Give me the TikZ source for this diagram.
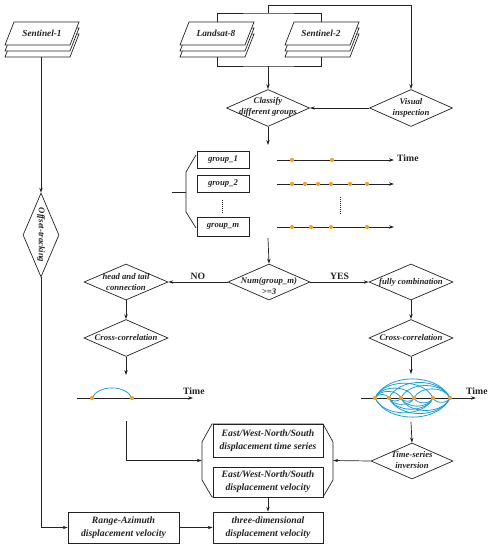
\documentclass[tikz,border=0pt]{standalone}
\usepackage{fontspec}
\setmainfont{Liberation Serif}
\usetikzlibrary{shapes.geometric,arrows.meta}
\definecolor{lc}{RGB}{35,35,35}
\definecolor{dotc}{RGB}{247,160,30}
\definecolor{arcc}{RGB}{25,160,220}
\newcommand\sheetstack[2]{%
  \foreach \o in {12,6,0}{%
    \draw[ln,fill=white] (#1-28,#2+\o) -- (#1+37,#2+\o) -- (#1+28,#2+23+\o) -- (#1-37,#2+23+\o) -- cycle;}%
}
\begin{document}
\begin{tikzpicture}[x=1pt,y=-1pt,
  ln/.style={draw=lc,line width=0.7pt},
  arr/.style={ln,-{Stealth[length=5pt,width=3.4pt]}},
  dia/.style={diamond,draw=lc,line width=0.7pt,inner sep=0pt,fill=white},
  dtext/.style={font=\bfseries\itshape\fontsize{8.7}{11}\selectfont,align=center,inner sep=0pt,text=lc},
  btext/.style={font=\bfseries\itshape\fontsize{9.5}{13}\selectfont,align=center,inner sep=0pt,text=lc},
  box/.style={rectangle,draw=lc,line width=0.7pt,inner sep=0pt,align=center,text=lc,fill=white},
  gbox/.style={box,minimum width=52pt,minimum height=17pt,font=\bfseries\itshape\fontsize{8.7}{10}\selectfont},
  bbox/.style={box,minimum width=110pt,font=\bfseries\itshape\fontsize{9.7}{13}\selectfont},
  tlabel/.style={font=\bfseries\fontsize{9.7}{11}\selectfont,inner sep=0pt,text=lc},
  dotline/.style={draw=lc,line width=1pt,dash pattern=on 1pt off 1pt},
  arcl/.style={draw=arcc,line width=0.8pt},
]
\useasboundingbox (0,0) rectangle (493,550);

% ---------- input stacks ----------
\sheetstack{42}{22}
\sheetstack{217}{22}
\sheetstack{322}{22}
\node[btext,font=\bfseries\itshape\fontsize{9.3}{11}\selectfont] (s1) at (42,33.5) {Sentinel-1};
\node[btext,font=\bfseries\itshape\fontsize{9.3}{11}\selectfont] (l8) at (216,33.5) {Landsat-8};
\node[btext,font=\bfseries\itshape\fontsize{9.3}{11}\selectfont] (s2) at (321,33.5) {Sentinel-2};
\coordinate (s1b) at (41,57);
\coordinate (l8t) at (217,22);
\coordinate (s2t) at (321,22);
\coordinate (l8b) at (217,57);
\coordinate (s2b) at (321,57);
\coordinate (brt) at (268,13);
\coordinate (brb) at (268,66);

% brackets
\draw[ln] (l8t) |- (brt) -| (s2t);
\draw[ln] (l8b) |- (brb) -| (s2b);

% ---------- diamonds top ----------
\node[dia,minimum width=83pt,minimum height=37pt] (cls) at (268,108) {};
\node[dtext] (clst) at (268,106.5) {Classify\\different groups};
\node[dia,minimum width=83pt,minimum height=37pt] (vis) at (411,108) {};
\node[dtext] (vist) at (411,108) {Visual\\inspection};

\draw[arr] (brb) -- (cls.north);
\draw[arr] (brt) -- (268,5) -| (vis.north);
\draw[arr] (vis.west) -- (cls.east);

\coordinate (clsend) at (268,145);
\draw[arr] (cls.south) -- (clsend);

% ---------- groups ----------
\node[gbox] (g1) at (223,160) {group\_1};
\node[gbox] (g2) at (223,184) {group\_2};
\node[gbox,minimum height=19pt] (gm) at (223,226.5) {group\_m};
\draw[dotline] (222,200) -- (222,214);
\draw[ln] (172,192) -- (186,192);
\draw[ln] (196,155) -- (186,172) -- (186,212) -- (196,228);

% time lines
\coordinate (r1s) at (277,160); \coordinate (r1e) at (394,160);
\coordinate (r2s) at (277,184); \coordinate (r2e) at (394,184);
\coordinate (r3s) at (277,227); \coordinate (r3e) at (394,227);
\draw[arr] (r1s) -- (r1e);
\draw[arr] (r2s) -- (r2e);
\draw[arr] (r3s) -- (r3e);
\node[tlabel,anchor=west] (time1) at (397,158) {Time};
\foreach \x in {292,332} \fill[dotc] (\x,160) circle (2.1);
\foreach \x in {292,305,318,331,350,367} \fill[dotc] (\x,184) circle (2.1);
\foreach \x in {292,311,331,367} \fill[dotc] (\x,227) circle (2.1);
\draw[dotline] (340,197) -- (340,214);

% ---------- decision ----------
\coordinate (numin) at (268,238);
\node[dia,minimum width=82pt,minimum height=36pt] (num) at (269,282) {};
\node[dtext] (numt) at (269,286) {Num(group\_m)\\>=3};
\draw[arr] (numin) -- (num.north);

\node[dia,minimum width=84pt,minimum height=36pt] (ht) at (126,282) {};
\node[dtext] (htt) at (126,282.5) {head and tail\\connection};
\node[dia,minimum width=84pt,minimum height=36pt] (fc) at (411,282) {};
\node[dtext] (fct) at (411,282) {fully combination};

\draw[arr] (num.west) -- node[tlabel,above=2pt] (no) {NO} (ht.east);
\draw[arr] (num.east) -- node[tlabel,above=2pt] (yes) {YES} (fc.west);

\node[dia,minimum width=84pt,minimum height=37pt] (ccl) at (126,338) {};
\node[dtext] (cclt) at (126,338) {Cross-correlation};
\node[dia,minimum width=84pt,minimum height=37pt] (ccr) at (411,338) {};
\node[dtext] (ccrt) at (411,338) {Cross-correlation};
\draw[arr] (ht.south) -- (ccl.north);
\draw[arr] (fc.south) -- (ccr.north);

\coordinate (cclend) at (126,375);
\coordinate (ccrend) at (411,374);
\draw[arr] (ccl.south) -- (cclend);
\draw[arr] (ccr.south) -- (ccrend);

% left timeline
\coordinate (lts) at (77,398); \coordinate (lte) at (193,398);
\draw[arr] (lts) -- (lte);
\node[tlabel,anchor=south west] (time2) at (183,395) {Time};
\draw[arcl] (92,398) .. controls +(6,-13.5) and +(-6,-13.5) .. (132,398);
\foreach \x in {92,132} \fill[dotc] (\x,398) circle (2.1);

% right timeline
\coordinate (rts) at (361,398); \coordinate (rte) at (476,398);
\draw[arr] (rts) -- (rte);
\node[tlabel,anchor=south west] (time3) at (466,395) {Time};
\foreach \a/\b/\s in {375/389/1,375/401/1,375/414/1,375/433/1,375/450/1,389/450/1,401/450/1,414/450/1,
                      375/450/-1,389/450/-1,401/450/-1,389/414/-1,401/433/-1,389/433/-1,414/433/-1,433/450/-1,389/401/-1,401/414/-1,375/433/-1}{
  \pgfmathsetmacro\dd{\b-\a}
  \pgfmathsetmacro\hh{\s*(0.34*\dd)}
  \draw[arcl] (\a,398) .. controls +(0.16*\dd,-\hh) and +(-0.16*\dd,-\hh) .. (\b,398);
}
\foreach \x in {375,389,401,414,433,450} \fill[dotc] (\x,398) circle (2.1);

% ---------- bottom ----------
\coordinate (tsiin) at (411,422);
\node[dia,minimum width=82pt,minimum height=36pt] (tsi) at (412,461) {};
\node[dtext] (tsit) at (412,460.5) {Time-series\\inversion};
\draw[arr] (tsiin) -- (tsi.north);

\node[rectangle,minimum width=131pt,minimum height=73pt,inner sep=0pt] (oct) at (267.5,460.5) {};
\draw[ln] (212,424) -- (323,424) -- (333,442) -- (333,480) -- (323,497) -- (212,497) -- (202,480) -- (202,442) -- cycle;
\node[bbox,minimum height=33pt] (ts) at (268,440.5) {East/West-North/South\\displacement time series};
\node[bbox,minimum height=30pt] (vel) at (268,482) {East/West-North/South\\displacement velocity};

\draw[arr] (tsi.west) -- (oct.east);
\coordinate (lin) at (126,421);
\draw[arr] (lin) |- (oct.west);

\node[bbox,minimum height=31pt] (three) at (268,527.5) {three-dimensional\\displacement velocity};
\node[bbox,minimum width=111pt,minimum height=31pt] (ra) at (123.5,527.5) {Range-Azimuth\\displacement velocity};
\draw[arr] (vel.south) -- (three.north);
\draw[arr] (ra.east) -- (three.west);

% ---------- Sentinel-1 branch ----------
\node[dia,minimum width=36pt,minimum height=84pt] (off) at (41,235) {};
\node[dtext,rotate=-90] (offt) at (41,235) {Offset-tracking};
\draw[arr] (s1b) -- (off.north);
\draw[arr] (off.south) |- (ra.west);
\end{tikzpicture}
\end{document}
